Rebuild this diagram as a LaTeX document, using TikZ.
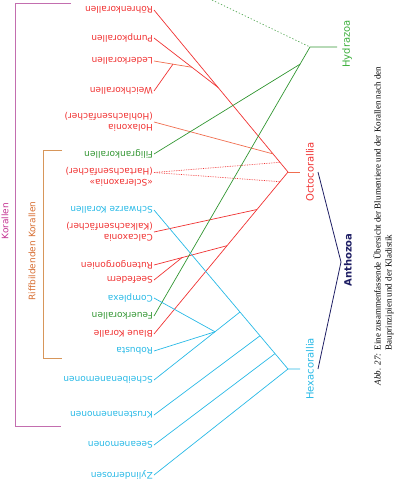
\documentclass[tikz,border=0pt]{standalone}
\usepackage{fontspec}
\setmainfont{Liberation Serif}
\setsansfont{DejaVu Sans}
\usepackage{tikz}
\usetikzlibrary{calc,positioning}
\definecolor{okred}{RGB}{240,50,50}
\definecolor{oksalm}{RGB}{240,110,80}
\definecolor{hygreen}{RGB}{50,150,50}
\definecolor{hytext}{RGB}{60,175,60}
\definecolor{hxblue}{RGB}{40,185,230}
\definecolor{antnavy}{RGB}{30,30,100}
\definecolor{korpink}{RGB}{195,110,175}
\definecolor{kortext}{RGB}{195,50,145}
\definecolor{riffbrown}{RGB}{215,150,90}
\definecolor{rifftext}{RGB}{215,110,50}
\tikzset{
  octo/.style={okred, line width=0.7pt},
  octolight/.style={oksalm, line width=0.7pt},
  octodot/.style={okred, line width=0.7pt, densely dotted},
  hydro/.style={hygreen, line width=0.7pt},
  hydrodot/.style={hygreen!80, line width=0.7pt, dash pattern=on 1.3pt off 2pt},
  hexa/.style={hxblue, line width=0.7pt},
  bracket/.style={line width=0.9pt},
  leaf/.style={font=\sffamily\fontsize{9}{10.5}\selectfont, rotate=180, anchor=west, inner sep=1pt, align=left},
  group/.style={font=\sffamily\fontsize{10}{12}\selectfont, rotate=90, inner sep=0pt},
  side/.style={font=\sffamily\fontsize{9}{11}\selectfont, rotate=90, inner sep=0pt}
}
\begin{document}
\begin{tikzpicture}[x=1pt,y=-1pt]
  \useasboundingbox (0,0) rectangle (396,480);
  % leaves
  \node[leaf, okred]  (roe)    at (154,10)  {Röhrenkorallen};
  \node[leaf, okred]  (pump)   at (154,38)  {Pumpkorallen};
  \node[leaf, okred]  (leder)  at (154,61)  {Lederkorallen};
  \node[leaf, okred]  (weich)  at (154,91)  {Weichkorallen};
  \node[leaf, okred]  (holax)  at (154,122) {Holaxonia\\(Hohlachsenfächer)};
  \node[leaf, hygreen](filig)  at (154,154) {Filigrankorallen};
  \node[leaf, okred]  (sclera) at (154,177) {«Scleraxonia»\\(Hartachsenfächer)};
  \node[leaf, hxblue] (schw)   at (154,210) {Schwarze Korallen};
  \node[leaf, okred]  (calc)   at (154,232) {Calcaxonia\\(Kalkachsenfächer)};
  \node[leaf, okred]  (ruten)  at (154,265) {Rutengorgonien};
  \node[leaf, okred]  (seef)   at (154,280) {Seefedern};
  \node[leaf, hxblue] (compl)  at (154,298) {Complexa};
  \node[leaf, hygreen](feuer)  at (154,316) {Feuerkorallen};
  \node[leaf, okred]  (blau)   at (154,334) {Blaue Koralle};
  \node[leaf, hxblue] (robu)   at (154,351) {Robusta};
  \node[leaf, hxblue] (scheib) at (154,380) {Scheibenanemonen};
  \node[leaf, hxblue] (krust)  at (154,415) {Krustenanemonen};
  \node[leaf, hxblue] (seeane) at (154,445) {Seeanemonen};
  \node[leaf, hxblue] (zyl)    at (154,475) {Zylinderrosen};
  \coordinate (scltip) at (154,172.5);

  % Octocorallia
  \coordinate (oc) at (288,172);
  \coordinate (ocstub) at (300,172);
  \coordinate (oup) at (280,162.3);
  \coordinate (ohol) at (273,153.9);
  \coordinate (opump) at (218,87.4);
  \coordinate (oleder) at (192,67.3);
  \coordinate (oweich) at (173,64.1);
  \coordinate (olow) at (280,181.7);
  \coordinate (ocalc) at (257,209.5);
  \coordinate (oruten) at (227,245.7);
  \coordinate (oseef) at (182,257.6);
  \draw[octo] (roe.west) -- (oc) -- (blau.west);
  \draw[octolight] (oc) -- (ocstub);
  \draw[octo] (pump.west) -- (opump);
  \draw[octolight] (leder.west) -- (oleder);
  \draw[octo] (weich.west) -- (oweich);
  \draw[octolight] (holax.west) -- (ohol);
  \draw[octodot] (scltip) -- (oup);
  \draw[octodot] (scltip) -- (olow);
  \draw[octo] (calc.west) -- (ocalc);
  \draw[octo] (ruten.west) -- (oruten);
  \draw[octo] (seef.west) -- (oseef);

  % Hydrazoa
  \coordinate (hy) at (310,47);
  \coordinate (hystub) at (337,47);
  \coordinate (hyfil) at (300,64.2);
  \coordinate (hytop) at (212,0);
  \draw[hydro] (feuer.west) -- (hy) -- (hystub);
  \draw[hydro] (filig.west) -- (hyfil);
  \draw[hydrodot] (hytop) -- (hy);

  % Hexacorallia
  \coordinate (hx) at (288,369);
  \coordinate (hxstub) at (300,369);
  \coordinate (hxsee) at (275,353.6);
  \coordinate (hxkru) at (260,335.8);
  \coordinate (hxsch) at (240,312);
  \coordinate (hxcr) at (215,331.8);
  \draw[hexa] (schw.west) -- (hx) -- (hxstub);
  \draw[hexa] (zyl.west) -- (hx);
  \draw[hexa] (seeane.west) -- (hxsee);
  \draw[hexa] (krust.west) -- (hxkru);
  \draw[hexa] (scheib.west) -- (hxsch);
  \draw[hexa] (compl.west) -- (hxcr);
  \draw[hexa] (robu.west) -- (hxcr);

  % groups
  \node[group, hytext] (hydrazoa) at (347,44) {Hydrazoa};
  \node[group, okred] (octocor) at (310,172) {Octocorallia};
  \node[group, hxblue] (hexacor) at (310,369) {Hexacorallia};
  \draw[antnavy, line width=0.8pt] (318,172) -- (341,262) -- (318,369);
  \node[group, antnavy, font=\sffamily\bfseries\fontsize{10}{12}\selectfont] (antho) at (348,260) {Anthozoa};
  \draw[bracket, korpink] (71,3) -| (15,426) -- (61,426);
  \node[side, kortext] (korallen) at (5,221) {Korallen};
  \draw[bracket, riffbrown] (62,150) -| (43,358) -- (62,358);
  \node[side, rifftext] (riff) at (32,251) {Riffbildenden Korallen};

  % caption
  \node[rotate=90, inner sep=0pt, font=\rmfamily\fontsize{9}{11}\selectfont] (cap) at (384,226)
    {\begin{tabular}{@{}l@{ }l@{}}\textit{Abb. 27:} & Eine zusammenfassende Übersicht der Blumentiere und der Korallen nach den\\
     & Bauprinzipien und der Kladistik\end{tabular}};
\end{tikzpicture}
\end{document}
